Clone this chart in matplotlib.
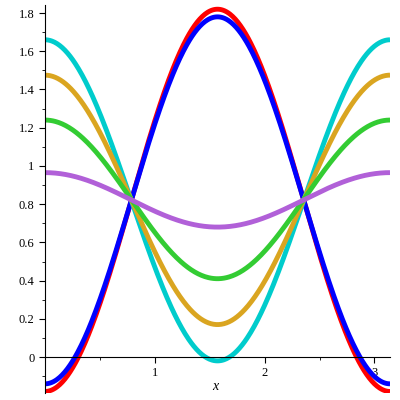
import numpy as np
import matplotlib
matplotlib.use("Agg")
import matplotlib.pyplot as plt
from matplotlib.ticker import MultipleLocator

# value of each curve at x=0 (and x=pi) and at x=pi/2
colors = ["#ff0000", "#0000ff", "#00cccc", "#daa520", "#33cc33", "#b160d8"]
end_vals = [-0.18, -0.14, 1.66, 1.475, 1.24, 0.965]
mid_vals = [1.82, 1.78, -0.02, 0.17, 0.41, 0.68]

plt.rcParams['font.family'] = ['Liberation Serif', 'DejaVu Serif']
fig = plt.figure(figsize=(4, 4), dpi=100)
ax = fig.add_axes([0.1125, 0.0175, 0.8625, 0.97])
x = np.linspace(0, np.pi, 400)
for c, e, m in zip(colors, end_vals, mid_vals):
    mean = (e + m) / 2
    amp = (e - m) / 2
    ax.plot(x, mean + amp * np.cos(2 * x), color=c, lw=3.5, solid_capstyle='butt')

ax.set_xlim(0, np.pi)
ax.set_ylim(-0.188, 1.842)
for s in ['top', 'right']:
    ax.spines[s].set_visible(False)
ax.spines['left'].set_position(('data', 0))
ax.spines['bottom'].set_position(('data', 0))
ax.xaxis.set_minor_locator(MultipleLocator(0.5))
ax.yaxis.set_minor_locator(MultipleLocator(0.1))
ax.set_xticks([1, 2, 3])
ax.set_xticklabels(['1', '2', '3'])
yt = [0, 0.2, 0.4, 0.6, 0.8, 1.0, 1.2, 1.4, 1.6, 1.8]
ax.set_yticks(yt)
ax.set_yticklabels(['0' if v == 0 else ('1' if v == 1 else f'{v:.1f}') for v in yt])
ax.tick_params(labelsize=9, length=4, width=0.8)
ax.tick_params(which='minor', length=2.5)
ax.text(1.55, -0.155, 'x', style='italic', fontsize=10, ha='center', va='center')
fig.savefig('out.png')
